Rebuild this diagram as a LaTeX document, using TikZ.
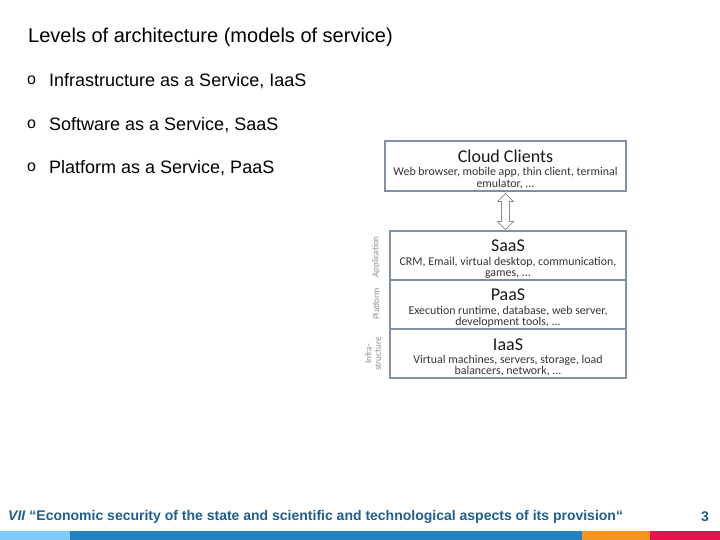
\documentclass[tikz,border=0pt]{standalone}
\usepackage{fontspec}
\setmainfont{Liberation Sans}
\newfontfamily\calfont{Carlito}
\usetikzlibrary{calc,positioning}

\definecolor{boxline}{HTML}{7F8FA6}
\definecolor{foottext}{HTML}{1F5E8E}
\definecolor{barlight}{HTML}{7FCBFA}
\definecolor{barblue}{HTML}{2181C1}
\definecolor{barorange}{HTML}{F7941D}
\definecolor{barred}{HTML}{EC0F4F}

\tikzset{
  txt/.style={anchor=west,inner sep=0pt},
  layer/.style={draw=boxline,line width=1.2pt,minimum width=236,minimum height=49,
    align=center,inner sep=0pt,text=black!80,font=\calfont\fontsize{11.9}{11.3}\selectfont},
  side/.style={rotate=90,align=center,inner sep=0pt,text=black!45,
    font=\calfont\fontsize{9}{9.5}\selectfont}
}
\newcommand{\lvltitle}[1]{{\fontsize{18}{15}\selectfont\color{black!90}\rule{0pt}{19.5pt}#1}}

\begin{document}
\begin{tikzpicture}[x=1pt,y=-1pt]
  \useasboundingbox (0,0) rectangle (720,540);

  %%%%%%%%%%%%%%%%%%%%%% TEXT %%%%%%%%%%%%%%%%%%%%%%
  \node[txt,font=\fontsize{20}{22}\selectfont] (head) at (28,37) {Levels of architecture (models of service)};

  \node[txt,font=\fontsize{16}{18}\selectfont] (b_1) at (27,80) {o};
  \node[txt,font=\fontsize{18}{20}\selectfont] (t_1) at (49,81) {Infrastructure as a Service, IaaS};
  \node[txt,font=\fontsize{16}{18}\selectfont] (b_2) at (27,124) {o};
  \node[txt,font=\fontsize{18}{20}\selectfont] (t_2) at (49,125) {Software as a Service, SaaS};
  \node[txt,font=\fontsize{16}{18}\selectfont] (b_3) at (27,167) {o};
  \node[txt,font=\fontsize{18}{20}\selectfont] (t_3) at (49,168) {Platform as a Service, PaaS};

  %%%%%%%%%%%%%%%%%%%%%% STACK %%%%%%%%%%%%%%%%%%%%%%
  \node[layer,minimum width=241,minimum height=50] (cc) at (505.5,166)
    {\lvltitle{Cloud Clients}\\[2pt] Web browser, mobile app, thin client, terminal\\ emulator, ...};

  \node[layer] (saas) at (508,255.5)
    {\lvltitle{SaaS}\\[2pt] CRM, Email, virtual desktop, communication,\\ games, ...};
  \node[layer] (paas) at (508,304.5)
    {\lvltitle{PaaS}\\[2pt] Execution runtime, database, web server,\\ development tools, ...};
  \node[layer] (iaas) at (508,353.5)
    {\lvltitle{IaaS}\\[2pt] Virtual machines, servers, storage, load\\ balancers, network, ...};

  \node[side] (s_app) at (376,257) {Application};
  \node[side] (s_plat) at (376,304) {Platform};
  \node[side] (s_inf) at (373,354) {Infra-\\structure};

  % hollow double arrow between clients and stack
  \draw[draw=black!45,line width=0.8pt,fill=white,line join=miter]
    ($(cc.south)+(0,2)$) -- ++(8,8) -- ++(-4,0) -- ++(0,20) -- ++(4,0) -- ++(-8,8)
    -- ++(-8,-8) -- ++(4,0) -- ++(0,-20) -- ++(-4,0) -- cycle;

  %%%%%%%%%%%%%%%%%%%%%% FOOTER %%%%%%%%%%%%%%%%%%%%%%
  \node[txt,text=foottext,font=\bfseries\fontsize{14}{15}\selectfont] (foot) at (8,517)
    {\textit{VII} “Economic security of the state and scientific and technological aspects of its provision“};
  \node[txt,text=foottext,font=\bfseries\fontsize{14}{15}\selectfont] (page) at (701,517) {3};

  \fill[barlight] (0,531) rectangle (70,540);
  \fill[barblue] (70,531) rectangle (582,540);
  \fill[barorange] (582,531) rectangle (650,540);
  \fill[barred] (650,531) rectangle (720,540);
\end{tikzpicture}
\end{document}
